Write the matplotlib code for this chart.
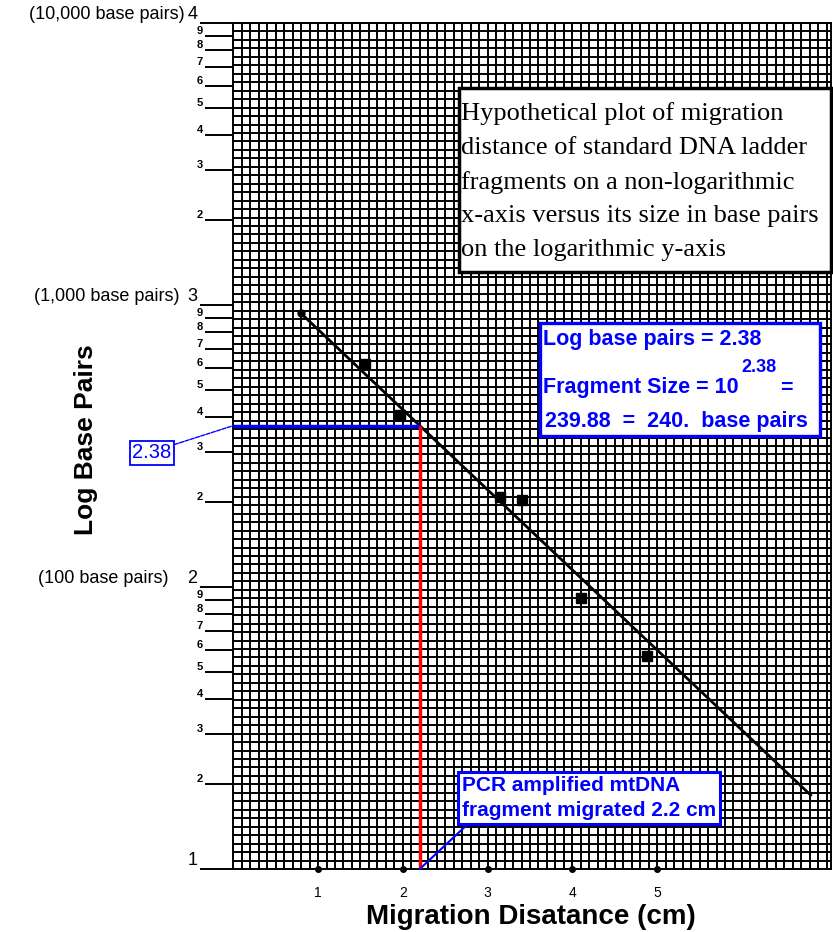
import numpy as np
import matplotlib
matplotlib.use('Agg')
import matplotlib.pyplot as plt
from matplotlib.patches import Rectangle
from matplotlib.transforms import blended_transform_factory

plt.rcParams['font.family'] = ['Liberation Sans', 'DejaVu Sans']

# ladder fragments: migration distance (cm) vs log10(base pairs)
ladder_x = [1.55, 1.97, 3.15, 3.41, 4.10, 4.88]
ladder_y = [2.79, 2.61, 2.32, 2.31, 1.96, 1.755]

# fitted standard curve (end points as drawn)
fit_x = [0.80, 6.81]
fit_y = [2.97, 1.262]

# unknown PCR fragment
mt_x = 2.2
mt_label = '2.38'

x_ticks = [1, 2, 3, 4, 5]
decades = [1, 2, 3, 4]
decade_notes = {4: '(10,000 base pairs)', 3: '(1,000 base pairs)', 2: '(100 base pairs)'}
note_right = {4: 185, 3: 180, 2: 168}
minor_k = [2, 3, 4, 5, 6, 7, 8, 9]

W, H = 833, 932
fig = plt.figure(figsize=(W / 100, H / 100), dpi=100)
ax = fig.add_axes([233.25 / W, 1 - 869 / H, (831 - 233.25) / W, (869 - 23) / H])
ax.set_xlim(0, 7.05)
ax.set_ylim(1, 4)

# graph paper grid
for gx in np.arange(0, 7.05, 0.1):
    ax.axvline(gx, color='black', lw=1.4, zorder=1)
for gy in np.arange(1, 4.001, 0.03):
    ax.axhline(gy, color='black', lw=1.4, zorder=1)
for s in ax.spines.values():
    s.set_linewidth(1.4)

# y ticks: decades and 2..9 within each decade
minor_pos, minor_lab = [], []
for d in decades[:-1]:
    for k in minor_k:
        minor_pos.append(d + np.log10(k))
        minor_lab.append(str(k))
ax.set_yticks(decades)
ax.set_yticklabels([str(d) for d in decades], fontsize=13)
ax.set_yticks(minor_pos, minor=True)
ax.set_yticklabels(minor_lab, minor=True, fontsize=8, fontweight='bold')
ax.tick_params(axis='y', which='major', length=24, width=1.4, pad=2)
ax.tick_params(axis='y', which='minor', length=20, width=1.4, pad=2)
for t in ax.get_yticklabels(which='both'):
    t.set_verticalalignment('bottom')

trans = blended_transform_factory(fig.transFigure, ax.transData)
for d, note in decade_notes.items():
    ax.text(note_right[d] / W, d, note, transform=trans, ha='right', va='bottom', fontsize=13)

# x ticks
ax.set_xticks(x_ticks)
ax.set_xticklabels([str(v) for v in x_ticks], fontsize=10)
ax.tick_params(axis='x', length=0, pad=12)
ax.plot(x_ticks, [1] * len(x_ticks), 'ko', ms=4, clip_on=False, zorder=5)

# standard curve and ladder points
ax.plot(fit_x, fit_y, color='black', lw=2, zorder=4)
ax.plot(fit_x[0], fit_y[0], 'ko', ms=5, zorder=5)
ax.plot(ladder_x, ladder_y, 's', color='black', ms=7, zorder=5)

# unknown fragment read-off lines
mt_y = np.interp(mt_x, fit_x, fit_y)
ax.plot([0, mt_x], [mt_y, mt_y], color='blue', lw=2.5, zorder=6, solid_capstyle='butt')
ax.plot([mt_x, mt_x], [1, mt_y], color='red', lw=2.5, zorder=6, solid_capstyle='butt')

ax.annotate(mt_label, xy=(0, mt_y), xycoords='data',
            xytext=(152 / W, 1 - 453 / H), textcoords='figure fraction',
            ha='center', va='center', fontsize=14.5, color='blue',
            bbox=dict(boxstyle='square,pad=0.1', fc='white', ec='blue', lw=1.3),
            arrowprops=dict(arrowstyle='-', color='blue', lw=1, ls=(0, (3, 1)),
                            relpos=(1, 0.9), shrinkA=0, shrinkB=0),
            annotation_clip=False, zorder=7)

ax.annotate('PCR amplified mtDNA\nfragment migrated 2.2 cm', xy=(mt_x, 1), xycoords='data',
            xytext=(462 / W, 1 - 798 / H), textcoords='figure fraction',
            ha='left', va='center', fontsize=15, fontweight='bold', color='blue',
            linespacing=1.4,
            bbox=dict(boxstyle='square,pad=0.18', fc='white', ec='blue', lw=2.2),
            arrowprops=dict(arrowstyle='-', color='blue', lw=1.5,
                            relpos=(0.04, 0), shrinkA=0, shrinkB=0),
            annotation_clip=False, zorder=7)

# description box
fig.patches.append(Rectangle((459 / W, 1 - 272 / H), (831 - 459) / W, (272 - 88) / H,
                             transform=fig.transFigure, fc='white', ec='black', lw=2.5, zorder=8))
fig.text(461 / W, 1 - 102 / H,
         'Hypothetical plot of migration\n'
         'distance of standard DNA ladder\n'
         'fragments on a non-logarithmic\n'
         'x-axis versus its size in base pairs\n'
         'on the logarithmic y-axis',
         family='Liberation Serif', fontsize=19, linespacing=1.68,
         ha='left', va='top', zorder=9)

# calculation box
fig.patches.append(Rectangle((540 / W, 1 - 436 / H), (820 - 540) / W, (436 - 323) / H,
                             transform=fig.transFigure, fc='white', ec='blue', lw=2.4, zorder=8))
calc = dict(color='blue', fontweight='bold', fontsize=15.5, va='center', ha='left', zorder=9)
fig.text(543 / W, 1 - 339 / H, 'Log base pairs = 2.38', **calc)
fig.text(543 / W, 1 - 388 / H, 'Fragment Size = 10', **calc)
fig.text(741 / W, 1 - 368 / H, mt_label, **dict(calc, fontsize=13))
fig.text(780 / W, 1 - 388 / H, '=', **calc)
fig.text(545 / W, 1 - 422 / H, '239.88  =  240.  base pairs', **calc)

# axis titles
fig.text(531 / W, 1 - 917 / H, 'Migration Disatance (cm)', ha='center', va='center',
         fontsize=20, fontweight='bold')
fig.text(86 / W, 1 - 440 / H, 'Log Base Pairs', ha='center', va='center',
         rotation=90, fontsize=19, fontweight='bold')

fig.savefig('out.png', dpi=100)
